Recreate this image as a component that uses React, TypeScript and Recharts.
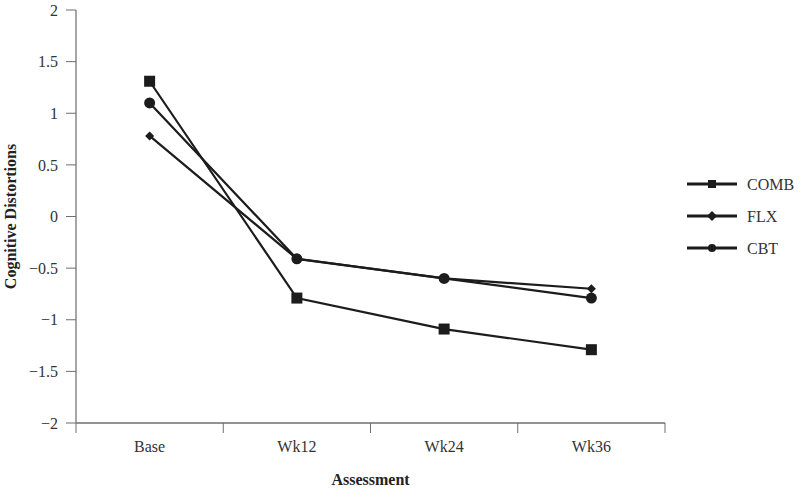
import React from "react";
import {
  LineChart,
  Line,
  XAxis,
  YAxis,
  Legend,
} from "recharts";

const assessments = ["Base", "Wk12", "Wk24", "Wk36"];
const comb = [1.31, -0.79, -1.09, -1.29];
const flx = [0.78, -0.41, -0.6, -0.7];
const cbt = [1.1, -0.41, -0.6, -0.79];
const yTicks = [-2, -1.5, -1, -0.5, 0, 0.5, 1, 1.5, 2];
const xTicks = [0, 0.5, 1, 1.5, 2, 2.5, 3, 3.5, 4];
const seriesNames = ["COMB", "FLX", "CBT"];

const data = assessments.map((name, i) => ({
  name,
  pos: i + 0.5,
  COMB: comb[i],
  FLX: flx[i],
  CBT: cbt[i],
}));

const INK = "#1c1c1c";
const AXIS = "#6e6e6e";
const TEXT = "#333";
const FONT = "'Liberation Serif', 'Times New Roman', serif";
const FS = 16;
const TICK = 10;
const MARGIN = 8;

const fmtY = (v: number) => (v < 0 ? "\u2212" + Math.abs(v) : String(v));

function Marker({ kind, cx, cy, s }: { kind: string; cx: number; cy: number; s: number }) {
  if (kind === "COMB")
    return <rect x={cx - s / 2} y={cy - s / 2} width={s} height={s} fill={INK} />;
  if (kind === "FLX") {
    const h = s / 2;
    return (
      <polygon
        points={`${cx},${cy - h} ${cx + h},${cy} ${cx},${cy + h} ${cx - h},${cy}`}
        fill={INK}
      />
    );
  }
  return <circle cx={cx} cy={cy} r={s / 2} fill={INK} />;
}

const makeDot = (kind: string, s: number) => (props: any) => {
  const { cx, cy, index } = props;
  if (cx == null || cy == null) return <g key={index} />;
  return <Marker key={index} kind={kind} cx={cx} cy={cy} s={s} />;
};

function BottomTick(props: any) {
  const { x, y, payload } = props;
  const v = payload.value;
  if (Number.isInteger(v)) {
    return (
      <line x1={x} x2={x} y1={y - TICK - MARGIN} y2={y - MARGIN} stroke={AXIS} strokeWidth={1} />
    );
  }
  return (
    <text x={x} y={y} dy="0.71em" textAnchor="middle" fill={TEXT} fontSize={FS} fontFamily={FONT}>
      {assessments[Math.floor(v)]}
    </text>
  );
}

function LegendBox() {
  return (
    <svg width={113} height={90} style={{ display: "block" }}>
      {seriesNames.map((n, i) => {
        const y = 8 + i * 32;
        return (
          <g key={n}>
            <line x1={0} x2={50} y1={y} y2={y} stroke={INK} strokeWidth={3} />
            <Marker kind={n} cx={25} cy={y} s={n === "FLX" ? 10 : 8} />
            <text x={60} y={y} dy="0.35em" fill={TEXT} fontSize={FS} fontFamily={FONT}>
              {n}
            </text>
          </g>
        );
      })}
    </svg>
  );
}

export default function App() {
  return (
    <div style={{ position: "absolute", left: 0, top: 0, background: "#fff" }}>
      <LineChart
        width={800}
        height={489}
        data={data}
        margin={{ top: 10, right: 135, left: 0, bottom: 0 }}
        style={{ fontFamily: FONT }}
      >
        <XAxis
          dataKey="pos"
          type="number"
          domain={[0, 4]}
          ticks={xTicks}
          interval={0}
          height={66}
          tickSize={TICK}
          tickMargin={MARGIN}
          tickLine={false}
          axisLine={{ stroke: AXIS, strokeWidth: 1.5 }}
          tick={<BottomTick />}
          label={{
            value: "Assessment",
            position: "insideBottom",
            offset: 4,
            fill: "#222",
            fontSize: FS,
            fontWeight: "bold",
            fontFamily: FONT,
          }}
        />
        <XAxis
          xAxisId="top"
          orientation="top"
          type="number"
          domain={[0, 4]}
          ticks={[1, 2, 3]}
          height={0}
          mirror
          tickSize={TICK}
          tickFormatter={() => ""}
          tickLine={{ stroke: AXIS }}
          axisLine={{ stroke: AXIS, strokeWidth: 1.5 }}
        />
        <YAxis
          type="number"
          domain={[-2, 2]}
          ticks={yTicks}
          interval={0}
          width={76}
          tickSize={TICK}
          tickMargin={8}
          tickFormatter={fmtY}
          tick={{ fill: TEXT, fontSize: FS, fontFamily: FONT }}
          tickLine={{ stroke: AXIS }}
          axisLine={{ stroke: "#888", strokeWidth: 1.5 }}
          label={{
            value: "Cognitive Distortions",
            angle: -90,
            position: "insideLeft",
            offset: 10,
            fill: "#222",
            fontSize: FS,
            fontWeight: "bold",
            fontFamily: FONT,
            style: { textAnchor: "middle" },
          }}
        />
        <YAxis
          yAxisId="right"
          orientation="right"
          type="number"
          domain={[-2, 2]}
          width={0}
          tick={false}
          tickLine={false}
          axisLine={{ stroke: AXIS, strokeWidth: 1.5 }}
        />
        <Legend
          layout="vertical"
          align="center"
          verticalAlign="middle"
          wrapperStyle={{ left: 687, top: 176, width: 113 }}
          content={() => <LegendBox />}
        />
        <Line
          dataKey="COMB"
          stroke={INK}
          strokeWidth={2.2}
          dot={makeDot("COMB", 11)}
          activeDot={false}
          isAnimationActive={false}
        />
        <Line
          dataKey="FLX"
          stroke={INK}
          strokeWidth={2.2}
          dot={makeDot("FLX", 9)}
          activeDot={false}
          isAnimationActive={false}
        />
        <Line
          dataKey="CBT"
          stroke={INK}
          strokeWidth={2.2}
          dot={makeDot("CBT", 11)}
          activeDot={false}
          isAnimationActive={false}
        />
      </LineChart>
    </div>
  );
}
